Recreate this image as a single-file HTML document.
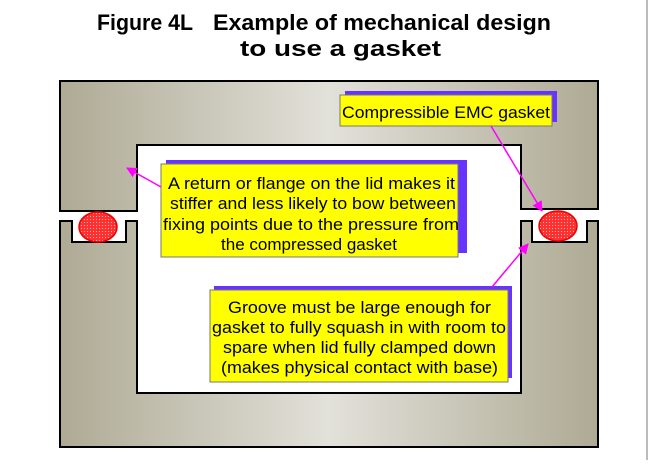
<!DOCTYPE html>
<html><head><style>
body{margin:0;background:#fff;width:649px;height:460px;overflow:hidden;font-family:"Liberation Sans",Arial,sans-serif;}
</style></head><body>
<svg width="649" height="460" xmlns="http://www.w3.org/2000/svg" font-family="Liberation Sans, Arial, sans-serif">
<defs>
<linearGradient id="g" x1="0" x2="1" y1="0" y2="0">
<stop offset="0" stop-color="#aeaa94"/><stop offset="0.5" stop-color="#e2e1da"/><stop offset="1" stop-color="#aeaa94"/>
</linearGradient>
<pattern id="hp" width="3" height="3" patternUnits="userSpaceOnUse"><rect width="3" height="3" fill="#ff3030"/><rect width="1" height="1" fill="#ffb0b0"/></pattern>
<marker id="ah" viewBox="0 0 10 10" refX="9" refY="5" markerWidth="7" markerHeight="7" orient="auto"><path d="M0,0L10,5L0,10z" fill="#ff00ff"/></marker>
</defs>
<line x1="647" y1="0" x2="647" y2="460" stroke="#bbb" stroke-width="2"/>
<text x="97" y="30" font-size="22" font-weight="bold" fill="#000" textLength="96" lengthAdjust="spacingAndGlyphs">Figure 4L</text>
<text x="213" y="30" font-size="22" font-weight="bold" fill="#000" textLength="338" lengthAdjust="spacingAndGlyphs">Example of mechanical design</text>
<text x="240" y="56" font-size="22" font-weight="bold" fill="#000" textLength="201" lengthAdjust="spacingAndGlyphs">to use a gasket</text>
<!-- lid -->
<path d="M60,81H598V209H521V145H137V211H60Z" fill="url(#g)" stroke="#000" stroke-width="2"/>
<!-- base -->
<path d="M60,221H72V242H126V221H137V393H521V221H532V242H587V221H598V447H60Z" fill="url(#g)" stroke="#000" stroke-width="2"/>
<ellipse cx="98" cy="227" rx="19" ry="15" fill="url(#hp)" stroke="#e00" stroke-width="1.5"/>
<ellipse cx="558" cy="226" rx="19" ry="15" fill="url(#hp)" stroke="#e00" stroke-width="1.5"/>
<!-- boxes -->
<rect x="345" y="91" width="212" height="31" fill="#6633ff"/>
<rect x="340" y="95" width="212" height="31" fill="#ffff00" stroke="#777" stroke-width="1"/>
<text x="342" y="118" font-size="17" fill="#000" textLength="208" lengthAdjust="spacingAndGlyphs">Compressible EMC gasket</text>
<rect x="166" y="160" width="301" height="93" fill="#6633ff"/>
<rect x="161" y="164" width="297" height="93" fill="#ffff00" stroke="#777" stroke-width="1"/>
<g font-size="17" fill="#000">
<text x="168" y="189" textLength="287" lengthAdjust="spacingAndGlyphs">A return or flange on the lid makes it</text>
<text x="170" y="209" textLength="286" lengthAdjust="spacingAndGlyphs">stiffer and less likely to bow between</text>
<text x="163" y="230" textLength="296" lengthAdjust="spacingAndGlyphs">fixing points due to the pressure from</text>
<text x="221" y="250" textLength="176" lengthAdjust="spacingAndGlyphs">the compressed gasket</text>
</g>
<rect x="214" y="286" width="298" height="92" fill="#6633ff"/>
<rect x="210" y="290" width="298" height="92" fill="#ffff00" stroke="#777" stroke-width="1"/>
<g font-size="17" fill="#000">
<text x="228" y="313" textLength="263" lengthAdjust="spacingAndGlyphs">Groove must be large enough for</text>
<text x="212" y="333" textLength="294" lengthAdjust="spacingAndGlyphs">gasket to fully squash in with room to</text>
<text x="223" y="353" textLength="273" lengthAdjust="spacingAndGlyphs">spare when lid fully clamped down</text>
<text x="221" y="373" textLength="277" lengthAdjust="spacingAndGlyphs">(makes physical contact with base)</text>
</g>
<!-- arrows -->
<line x1="161" y1="187" x2="127" y2="168" stroke="#ff00ff" stroke-width="1.5" marker-end="url(#ah)"/>
<line x1="491" y1="126" x2="542" y2="211" stroke="#ff00ff" stroke-width="1.5" marker-end="url(#ah)"/>
<line x1="492" y1="287" x2="528" y2="244" stroke="#ff00ff" stroke-width="1.5" marker-end="url(#ah)"/>
</svg>
</body></html>
